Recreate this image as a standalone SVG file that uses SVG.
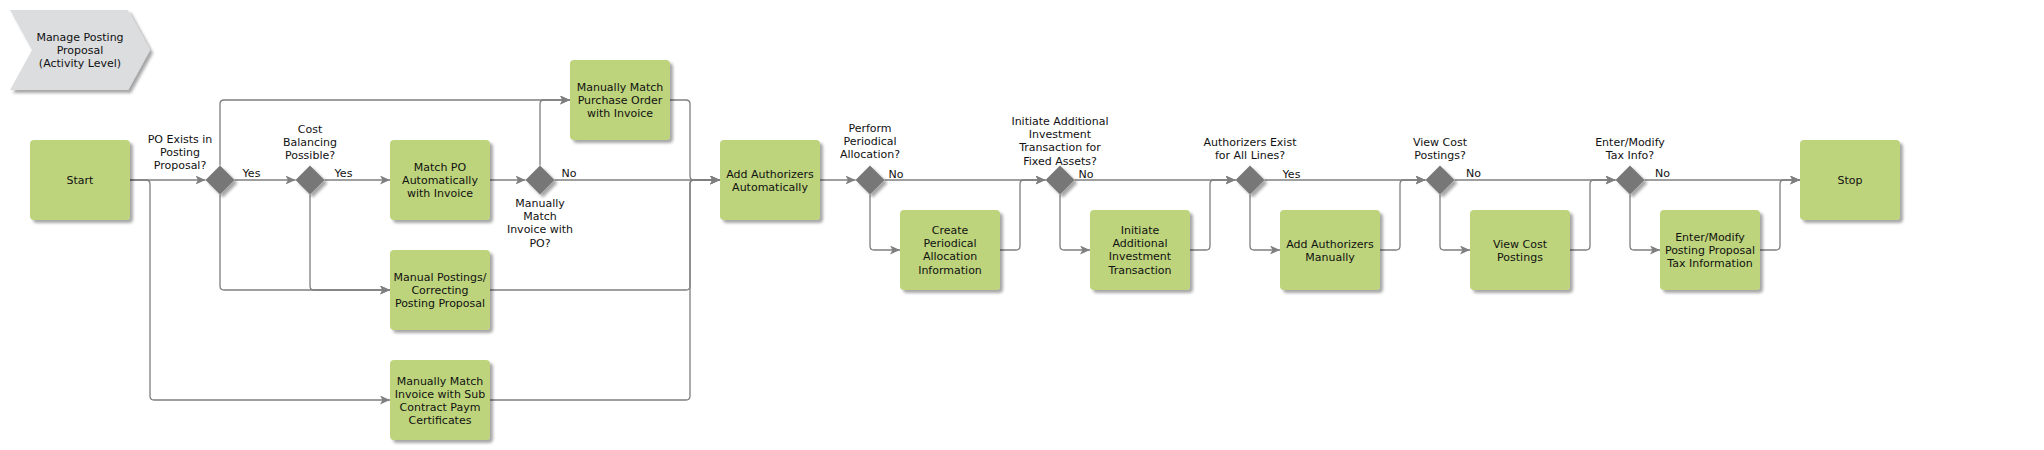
<svg xmlns="http://www.w3.org/2000/svg" width="2044" height="450" viewBox="0 0 2044 450">
<defs>
<filter id="sh" x="-20%" y="-20%" width="150%" height="150%">
<feGaussianBlur in="SourceAlpha" stdDeviation="1.8"/>
<feOffset dx="3" dy="3" result="b"/>
<feComponentTransfer><feFuncA type="linear" slope="0.35"/></feComponentTransfer>
<feMerge><feMergeNode/><feMergeNode in="SourceGraphic"/></feMerge>
</filter>
<marker id="ah" markerUnits="userSpaceOnUse" markerWidth="11" markerHeight="9" refX="10" refY="4.5" orient="auto">
<path d="M0,0 L10,4.5 L0,9 L2.5,4.5 z" fill="#7f7f7f"/>
</marker>
</defs>
<style>
.box{fill:#bdd47c;filter:url(#sh)}
.dia{fill:#777777;filter:url(#sh)}
.hdr{fill:#dcdddf;filter:url(#sh)}
text{font-family:"DejaVu Sans",Verdana,sans-serif;font-size:11px;fill:#111;text-anchor:middle}
.c path{fill:none;stroke:#7f7f7f;stroke-width:1.3}
.c path.a{marker-end:url(#ah)}
</style>
<rect width="2044" height="450" fill="#fff"/>

<g id="header">
<polygon class="hdr" points="10,10 128,10 150,50 128,90 10,90 32,50"/>
<text x="80" y="41">Manage Posting</text>
<text x="80" y="54">Proposal</text>
<text x="80" y="67">(Activity Level)</text>
</g>

<g class="c" id="connectors">
<path class="a" d="M130,180 H205.5"/>
<path class="a" d="M130,180 H146 Q150,180 150,184 V396 Q150,400 154,400 H390"/>
<path class="a" d="M234.5,180 H295.5"/>
<path class="a" d="M220,165.5 V104 Q220,100 224,100 H570"/>
<path class="a" d="M220,194.5 V286 Q220,290 224,290 H390"/>
<path class="a" d="M324.5,180 H390"/>
<path class="a" d="M310,194.5 V286 Q310,290 314,290 H390"/>
<path class="a" d="M490,180 H525.5"/>
<path class="a" d="M540,165.5 V104 Q540,100 544,100 H570"/>
<path class="a" d="M554.5,180 H720"/>
<path class="a" d="M670,100 H686 Q690,100 690,104 V176 Q690,180 694,180 H720"/>
<path class="a" d="M490,290 H686 Q690,290 690,286 V184 Q690,180 694,180 H720"/>
<path class="a" d="M490,400 H686 Q690,400 690,396 V184 Q690,180 694,180 H720"/>
<path class="a" d="M820,180 H855.5"/>
<path class="a" d="M884.5,180 H1045.5"/>
<path class="a" d="M870,194.5 V246 Q870,250 874,250 H900"/>
<path class="a" d="M1000,250 H1016 Q1020,250 1020,246 V184 Q1020,180 1024,180 H1045.5"/>
<path class="a" d="M1074.5,180 H1235.5"/>
<path class="a" d="M1060,194.5 V246 Q1060,250 1064,250 H1090"/>
<path class="a" d="M1190,250 H1206 Q1210,250 1210,246 V184 Q1210,180 1214,180 H1235.5"/>
<path class="a" d="M1264.5,180 H1425.5"/>
<path class="a" d="M1250,194.5 V246 Q1250,250 1254,250 H1280"/>
<path class="a" d="M1380,250 H1396 Q1400,250 1400,246 V184 Q1400,180 1404,180 H1425.5"/>
<path class="a" d="M1454.5,180 H1615.5"/>
<path class="a" d="M1440,194.5 V246 Q1440,250 1444,250 H1470"/>
<path class="a" d="M1570,250 H1586 Q1590,250 1590,246 V184 Q1590,180 1594,180 H1615.5"/>
<path class="a" d="M1644.5,180 H1800"/>
<path class="a" d="M1630,194.5 V246 Q1630,250 1634,250 H1660"/>
<path class="a" d="M1760,250 H1776 Q1780,250 1780,246 V184 Q1780,180 1784,180 H1800"/>
</g>

<g id="labels">
<text x="251.5" y="177">Yes</text>
<text x="343.5" y="177">Yes</text>
<text x="569" y="177">No</text>
<text x="896" y="178">No</text>
<text x="1086" y="178">No</text>
<text x="1291.5" y="178">Yes</text>
<text x="1473.5" y="177">No</text>
<text x="1662.5" y="177">No</text>
</g>

<g id="start"><rect class="box" x="30" y="140" width="100" height="80" rx="4"/><text x="80" y="184">Start</text></g>

<g id="gw1"><polygon class="dia" points="220,165.5 234.5,180 220,194.5 205.5,180"/>
<text x="180" y="143">PO Exists in</text><text x="180" y="156">Posting</text><text x="180" y="169">Proposal?</text></g>

<g id="gw2"><polygon class="dia" points="310,165.5 324.5,180 310,194.5 295.5,180"/>
<text x="310" y="133">Cost</text><text x="310" y="146">Balancing</text><text x="310" y="159">Possible?</text></g>

<g id="matchAuto"><rect class="box" x="390" y="140" width="100" height="80" rx="4"/>
<text x="440" y="171">Match PO</text><text x="440" y="184">Automatically</text><text x="440" y="197">with Invoice</text></g>

<g id="gw3"><polygon class="dia" points="540,165.5 554.5,180 540,194.5 525.5,180"/>
<text x="540" y="207">Manually</text><text x="540" y="220">Match</text><text x="540" y="233">Invoice with</text><text x="540" y="246.5">PO?</text></g>

<g id="matchManual"><rect class="box" x="570" y="60" width="100" height="80" rx="4"/>
<text x="620" y="91">Manually Match</text><text x="620" y="104">Purchase Order</text><text x="620" y="117">with Invoice</text></g>

<g id="manualPostings"><rect class="box" x="390" y="250" width="100" height="80" rx="4"/>
<text x="440" y="281">Manual Postings/</text><text x="440" y="294">Correcting</text><text x="440" y="307">Posting Proposal</text></g>

<g id="subContract"><rect class="box" x="390" y="360" width="100" height="80" rx="4"/>
<text x="440" y="384.5">Manually Match</text><text x="440" y="397.5">Invoice with Sub</text><text x="440" y="410.5">Contract Paym</text><text x="440" y="424">Certificates</text></g>

<g id="addAuthAuto"><rect class="box" x="720" y="140" width="100" height="80" rx="4"/>
<text x="770" y="177.5">Add Authorizers</text><text x="770" y="190.5">Automatically</text></g>

<g id="gw4"><polygon class="dia" points="870,165.5 884.5,180 870,194.5 855.5,180"/>
<text x="870" y="132">Perform</text><text x="870" y="145">Periodical</text><text x="870" y="158">Allocation?</text></g>

<g id="periodical"><rect class="box" x="900" y="210" width="100" height="80" rx="4"/>
<text x="950" y="234">Create</text><text x="950" y="247">Periodical</text><text x="950" y="260">Allocation</text><text x="950" y="273.5">Information</text></g>

<g id="gw5"><polygon class="dia" points="1060,165.5 1074.5,180 1060,194.5 1045.5,180"/>
<text x="1060" y="125">Initiate Additional</text><text x="1060" y="138">Investment</text><text x="1060" y="151">Transaction for</text><text x="1060" y="164.5">Fixed Assets?</text></g>

<g id="investment"><rect class="box" x="1090" y="210" width="100" height="80" rx="4"/>
<text x="1140" y="234">Initiate</text><text x="1140" y="247">Additional</text><text x="1140" y="260">Investment</text><text x="1140" y="273.5">Transaction</text></g>

<g id="gw6"><polygon class="dia" points="1250,165.5 1264.5,180 1250,194.5 1235.5,180"/>
<text x="1250" y="146">Authorizers Exist</text><text x="1250" y="159">for All Lines?</text></g>

<g id="addAuthManual"><rect class="box" x="1280" y="210" width="100" height="80" rx="4"/>
<text x="1330" y="248">Add Authorizers</text><text x="1330" y="261">Manually</text></g>

<g id="gw7"><polygon class="dia" points="1440,165.5 1454.5,180 1440,194.5 1425.5,180"/>
<text x="1440" y="146">View Cost</text><text x="1440" y="159">Postings?</text></g>

<g id="viewCost"><rect class="box" x="1470" y="210" width="100" height="80" rx="4"/>
<text x="1520" y="248">View Cost</text><text x="1520" y="261">Postings</text></g>

<g id="gw8"><polygon class="dia" points="1630,165.5 1644.5,180 1630,194.5 1615.5,180"/>
<text x="1630" y="146">Enter/Modify</text><text x="1630" y="159">Tax Info?</text></g>

<g id="taxInfo"><rect class="box" x="1660" y="210" width="100" height="80" rx="4"/>
<text x="1710" y="241">Enter/Modify</text><text x="1710" y="254">Posting Proposal</text><text x="1710" y="267">Tax Information</text></g>

<g id="stop"><rect class="box" x="1800" y="140" width="100" height="80" rx="4"/><text x="1850" y="184">Stop</text></g>
</svg>
